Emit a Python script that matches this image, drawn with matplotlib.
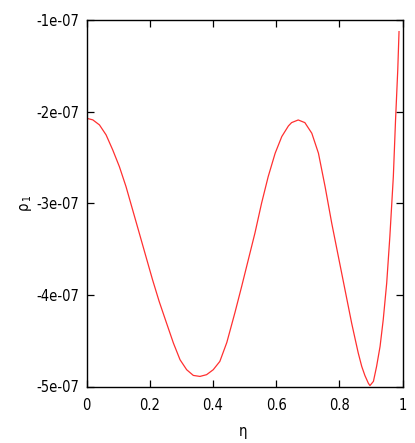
import matplotlib
matplotlib.use("Agg")
import matplotlib.pyplot as plt
from matplotlib import font_manager
from matplotlib.ticker import FixedLocator

# values (rho_1 in units of 1e-7)
eta = [0.000, 0.020, 0.041, 0.062, 0.083, 0.104, 0.125, 0.146, 0.167, 0.188,
       0.209, 0.230, 0.252, 0.275, 0.296, 0.317, 0.338, 0.359, 0.380, 0.401,
       0.422, 0.444, 0.470, 0.491, 0.512, 0.533, 0.554, 0.575, 0.597, 0.618,
       0.639, 0.649, 0.670, 0.691, 0.713, 0.734, 0.755, 0.776, 0.797, 0.818,
       0.839, 0.850, 0.860, 0.871, 0.881, 0.892, 0.897, 0.908, 0.918, 0.929,
       0.939, 0.950, 0.960, 0.971, 0.978, 0.985, 0.989]
rho1 = [-2.072, -2.090, -2.145, -2.254, -2.418, -2.600, -2.818, -3.072, -3.326, -3.581,
        -3.835, -4.072, -4.295, -4.526, -4.708, -4.817, -4.879, -4.890, -4.871, -4.817,
        -4.726, -4.520, -4.190, -3.908, -3.617, -3.326, -3.000, -2.709, -2.454, -2.272,
        -2.156, -2.120, -2.091, -2.120, -2.236, -2.454, -2.818, -3.217, -3.581, -3.944,
        -4.307, -4.480, -4.635, -4.781, -4.880, -4.965, -4.990, -4.944, -4.781, -4.563,
        -4.272, -3.871, -3.363, -2.709, -2.091, -1.545, -1.127]
rho1 = [v * 1e-7 for v in rho1]

xticks = [0, 0.2, 0.4, 0.6, 0.8, 1]
xticklabels = ["0", "0.2", "0.4", "0.6", "0.8", "1"]
yticks = [-5e-7, -4e-7, -3e-7, -2e-7, -1e-7]
yticklabels = ["-5e-07", "-4e-07", "-3e-07", "-2e-07", "-1e-07"]

# prefer a narrow sans face if one is installed
fonts = font_manager.fontManager.ttflist
names = {f.name for f in fonts}
if "Liberation Sans Narrow" in names:
    plt.rcParams["font.family"] = ["Liberation Sans Narrow", "DejaVu Sans"]
elif any(f.name == "DejaVu Sans" and f.stretch == "condensed" for f in fonts):
    plt.rcParams["font.family"] = ["DejaVu Sans"]
    plt.rcParams["font.stretch"] = "condensed"
else:
    plt.rcParams["font.family"] = ["Liberation Sans", "DejaVu Sans"]
plt.rcParams["font.size"] = 10.5

fig = plt.figure(figsize=(4.15, 4.43), dpi=100)
ax = fig.add_axes([86.5 / 415, 1 - 386.5 / 443, 316 / 415, 366.5 / 443])

ax.plot(eta, rho1, color="#ff3030", lw=0.9)

ax.set_xlim(0, 1)
ax.set_ylim(-5e-7, -1e-7)
ax.xaxis.set_major_locator(FixedLocator(xticks))
ax.set_xticklabels(xticklabels)
ax.yaxis.set_major_locator(FixedLocator(yticks))
ax.set_yticklabels(yticklabels)
ax.tick_params(direction="in", length=5, width=0.9, top=True, right=True)
ax.tick_params(axis="x", pad=8)
ax.tick_params(axis="y", pad=5)
for s in ax.spines.values():
    s.set_linewidth(1.0)

ax.set_xlabel("η")
ax.xaxis.set_label_coords(0.495, -0.102)
ax.set_ylabel(r"$\mathrm{\rho}_{\,1}$")
ax.yaxis.set_label_coords(-0.165, 0.5)

fig.savefig("out.png", dpi=100)
